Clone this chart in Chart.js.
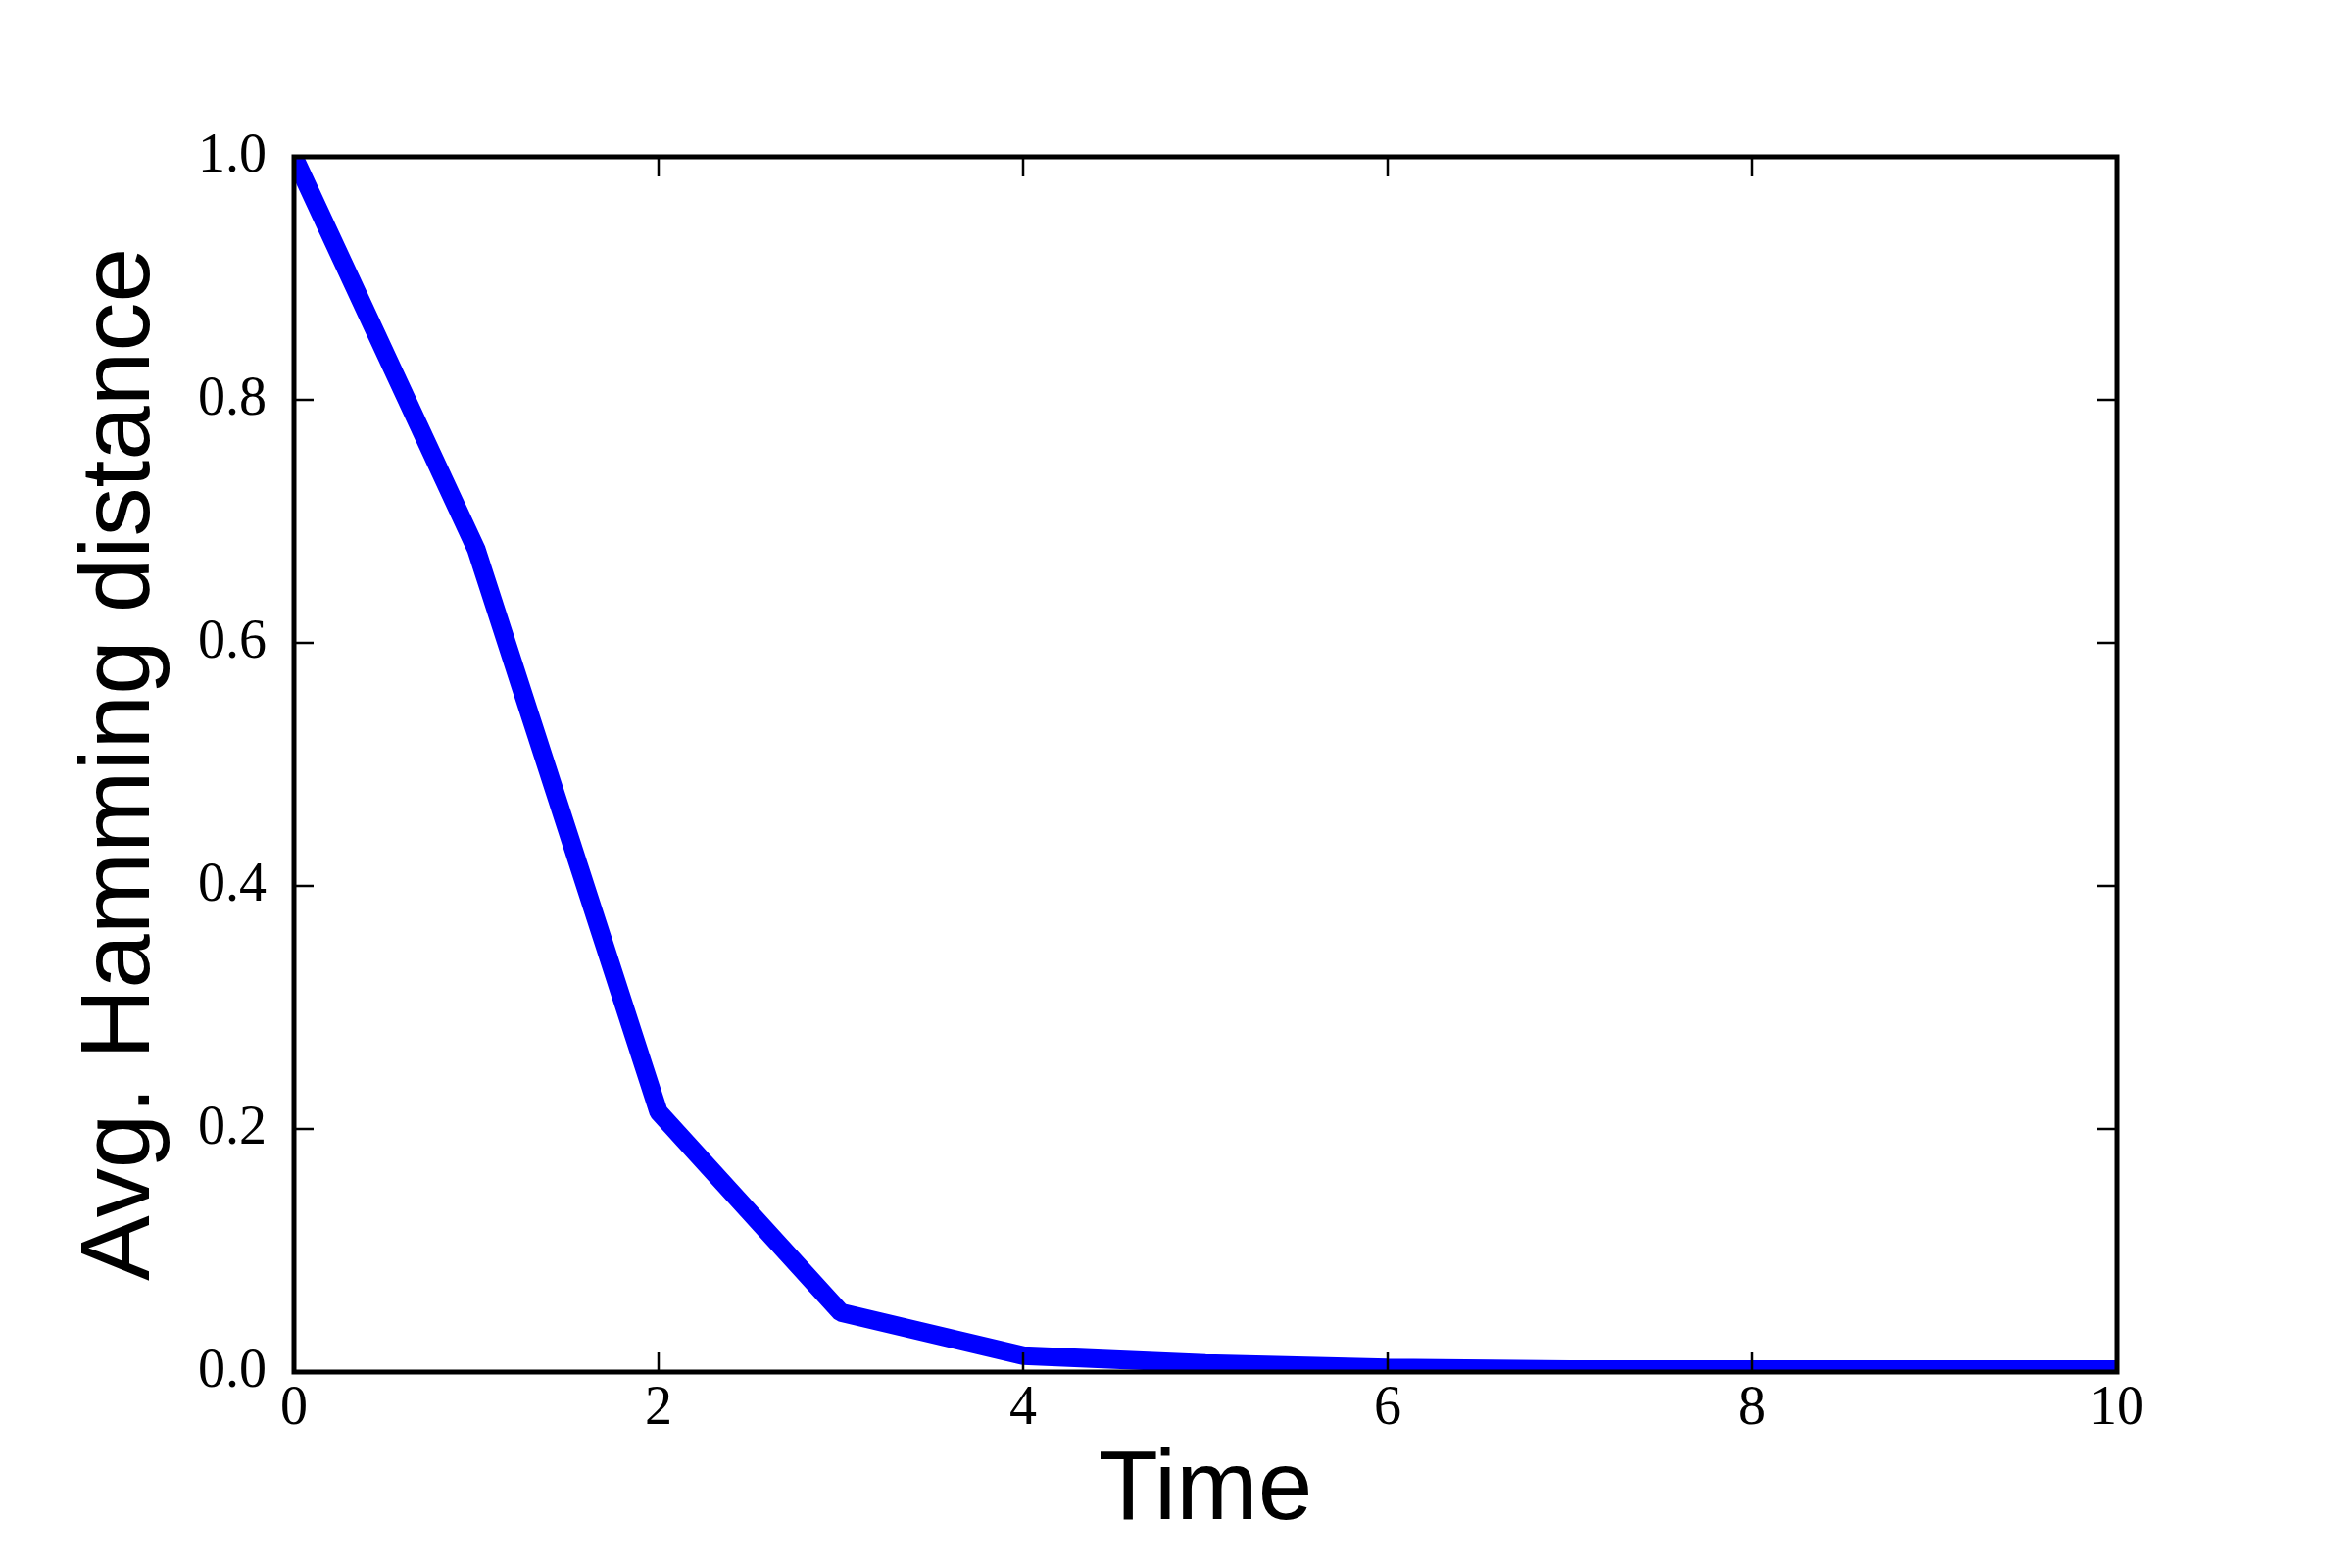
<!DOCTYPE html>
<html>
<head>
<meta charset="utf-8">
<script src="https://cdn.jsdelivr.net/npm/chart.js@4.4.1/dist/chart.umd.min.js"></script>
<style>
  html, body { margin: 0; padding: 0; background: #fff; }
  canvas { display: block; }
</style>
</head>
<body>
<canvas id="chart" width="2400" height="1600"></canvas>
<script>
// values
const times = [0, 1, 2, 3, 4, 5, 6, 7, 8, 9, 10];
const avgHamming = [1.0, 0.677, 0.214, 0.049, 0.0135, 0.0071, 0.0034, 0.002, 0.002, 0.002, 0.002];
const xTicks = [0, 2, 4, 6, 8, 10];
const yTicks = [0.0, 0.2, 0.4, 0.6, 0.8, 1.0];

Chart.defaults.color = "#000";

// box around the plot plus inward ticks on every side, like the matplotlib look
const frameAndTicks = {
  id: "frameAndTicks",
  afterDatasetsDraw(chart) {
    const { ctx, chartArea: a, scales } = chart;
    const tickLen = 20;
    ctx.save();
    ctx.strokeStyle = "#000";
    ctx.lineWidth = 2.5;
    ctx.beginPath();
    xTicks.forEach((v) => {
      const px = scales.x.getPixelForValue(v);
      ctx.moveTo(px, a.bottom);
      ctx.lineTo(px, a.bottom - tickLen);
      ctx.moveTo(px, a.top);
      ctx.lineTo(px, a.top + tickLen);
    });
    yTicks.forEach((v) => {
      const py = scales.y.getPixelForValue(v);
      ctx.moveTo(a.left, py);
      ctx.lineTo(a.left + tickLen, py);
      ctx.moveTo(a.right, py);
      ctx.lineTo(a.right - tickLen, py);
    });
    ctx.stroke();
    ctx.lineWidth = 5;
    ctx.strokeRect(a.left, a.top, a.right - a.left, a.bottom - a.top);
    ctx.restore();
  },
};

const ctx = document.getElementById("chart").getContext("2d");
new Chart(ctx, {
  type: "line",
  data: {
    datasets: [{
      data: times.map((t, i) => ({ x: t, y: avgHamming[i] })),
      borderColor: "#0000ff",
      borderWidth: 19,
      borderJoinStyle: "bevel",
      pointRadius: 0,
      tension: 0,
      fill: false,
      clip: 0,
    }],
  },
  options: {
    responsive: false,
    animation: false,
    devicePixelRatio: 1,
    layout: { padding: { top: 160, right: 240, left: 0, bottom: 0 } },
    plugins: { legend: { display: false }, tooltip: { enabled: false } },
    scales: {
      x: {
        type: "linear",
        min: 0,
        max: 10,
        afterFit: (scale) => { scale.height = 200; },
        afterBuildTicks: (scale) => { scale.ticks = xTicks.map((v) => ({ value: v })); },
        grid: { display: false, drawTicks: false },
        border: { display: false },
        ticks: {
          padding: 5,
          maxRotation: 0,
          font: { family: "'Liberation Serif', serif", size: 56 },
          callback: (v) => String(v),
        },
        title: {
          display: true,
          text: "Time",
          font: { family: "'Liberation Sans', Arial, sans-serif", size: 100 },
          padding: { top: 0, bottom: 18 },
        },
      },
      y: {
        type: "linear",
        min: 0,
        max: 1,
        afterFit: (scale) => { scale.width = 300; },
        afterBuildTicks: (scale) => { scale.ticks = yTicks.map((v) => ({ value: v })); },
        grid: { display: false, drawTicks: false },
        border: { display: false },
        ticks: {
          padding: 28,
          font: { family: "'Liberation Serif', serif", size: 56 },
          callback: (v) => Number(v).toFixed(1),
        },
        title: {
          display: true,
          text: "Avg. Hamming distance",
          font: { family: "'Liberation Sans', Arial, sans-serif", size: 100 },
          padding: { top: 64, bottom: 0 },
        },
      },
    },
  },
  plugins: [frameAndTicks],
});
</script>
</body>
</html>
